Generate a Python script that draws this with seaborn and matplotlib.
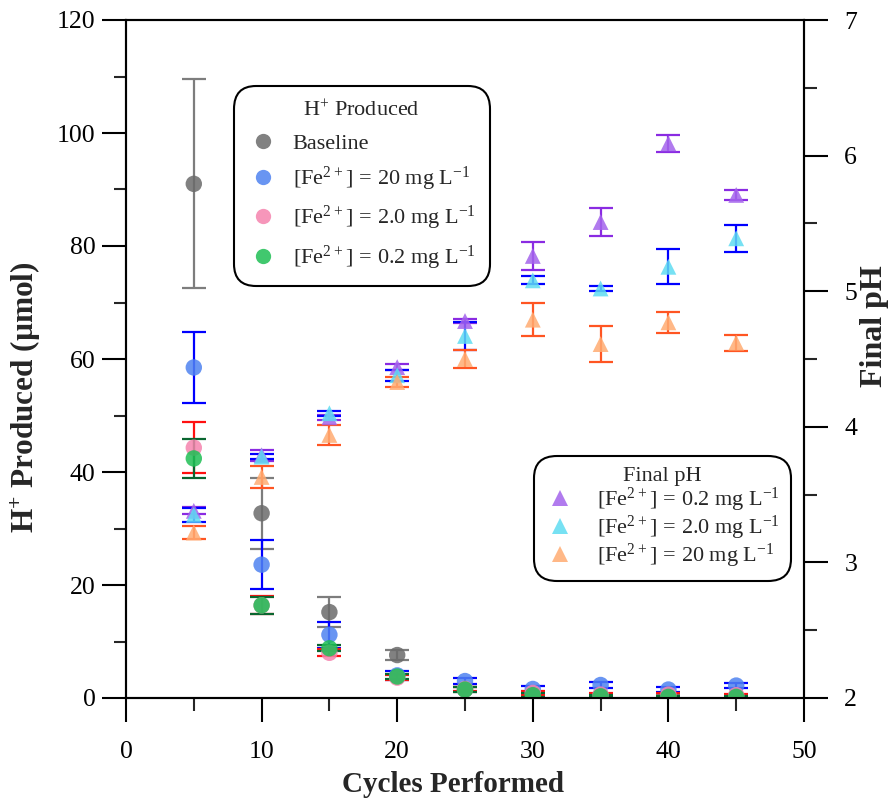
import matplotlib
matplotlib.use("Agg")
import matplotlib.pyplot as plt
from matplotlib.lines import Line2D
from matplotlib.ticker import MultipleLocator
import pandas as pd
import seaborn as sns

# ---------------------------------------------------------------------------
# Data
# ---------------------------------------------------------------------------
CYCLES = [5, 10, 15, 20, 25, 30, 35, 40, 45]

# H+ produced (umol): mean and error
H_BASELINE = [91.0, 32.7, 15.2, 7.6, 1.5, 0.8, 0.5, 0.3, 0.3]
H_BASELINE_ERR = [18.5, 6.3, 2.6, 0.9, 0.4, 0.3, 0.2, 0.2, 0.2]
H_FE20 = [58.5, 23.6, 11.2, 4.0, 3.0, 1.6, 2.3, 1.5, 2.2]
H_FE20_ERR = [6.3, 4.3, 2.3, 0.8, 0.6, 0.5, 0.6, 0.4, 0.5]
H_FE2 = [44.3, 16.4, 8.0, 3.6, 1.6, 0.9, 0.6, 0.6, 0.5]
H_FE2_ERR = [4.5, 1.6, 0.6, 0.5, 0.4, 0.3, 0.2, 0.2, 0.2]
H_FE02 = [42.4, 16.4, 8.8, 3.8, 1.5, 0.5, 0.3, 0.2, 0.2]
H_FE02_ERR = [3.4, 1.5, 0.5, 0.4, 0.4, 0.3, 0.2, 0.2, 0.2]

# Final pH: mean and error
PH_FE02 = [3.38, 3.79, 4.07, 4.44, 4.78, 5.26, 5.51, 6.09, 5.71]
PH_FE02_ERR = [0.025, 0.04, 0.02, 0.02, 0.015, 0.10, 0.10, 0.06, 0.035]
PH_FE2 = [3.35, 3.78, 4.10, 4.38, 4.67, 5.08, 5.02, 5.18, 5.39]
PH_FE2_ERR = [0.05, 0.02, 0.02, 0.04, 0.10, 0.03, 0.02, 0.13, 0.10]
PH_FE20 = [3.22, 3.63, 3.94, 4.33, 4.50, 4.79, 4.61, 4.77, 4.62]
PH_FE20_ERR = [0.045, 0.08, 0.075, 0.04, 0.07, 0.12, 0.13, 0.08, 0.06]

LBL_BASE = "Baseline"
LBL_20 = "[Fe$^{2+}$] = 20 mg L$^{-1}$"
LBL_2 = "[Fe$^{2+}$] = 2.0 mg L$^{-1}$"
LBL_02 = "[Fe$^{2+}$] = 0.2 mg L$^{-1}$"

# label -> (values, errors, marker colour, error bar colour)
H_SERIES = {
    LBL_BASE: (H_BASELINE, H_BASELINE_ERR, "#6b6b6b", "#7d7d7d"),
    LBL_20: (H_FE20, H_FE20_ERR, "#4f83f0", "#0000ff"),
    LBL_2: (H_FE2, H_FE2_ERR, "#f584ae", "#ff1010"),
    LBL_02: (H_FE02, H_FE02_ERR, "#1fbf55", "#0a6630"),
}
PH_SERIES = {
    LBL_02: (PH_FE02, PH_FE02_ERR, "#a464ec", "#8a2be2"),
    LBL_2: (PH_FE2, PH_FE2_ERR, "#5fdcf2", "#0000ff"),
    LBL_20: (PH_FE20, PH_FE20_ERR, "#ffac72", "#ff5522"),
}


def long_frame(series):
    rows = []
    for label, (vals, errs, _, _) in series.items():
        for c, v, e in zip(CYCLES, vals, errs):
            rows.append({"Cycles": c, "Value": v, "Err": e, "Series": label})
    return pd.DataFrame(rows)


sns.set_theme(style="ticks")
plt.rcParams["font.family"] = ["Liberation Serif", "DejaVu Serif"]
plt.rcParams["mathtext.default"] = "regular"
plt.rcParams["axes.linewidth"] = 1.5

fig = plt.figure(figsize=(8.95, 8.0), dpi=100)
ax = fig.add_axes([126 / 895, 1 - 698 / 800, 678 / 895, 678 / 800])
ax2 = ax.twinx()

h_df = long_frame(H_SERIES)
ph_df = long_frame(PH_SERIES)

# error bars first, markers on top
for label, (vals, errs, _, ecol) in H_SERIES.items():
    ax.errorbar(CYCLES, vals, yerr=errs, fmt="none", ecolor=ecol,
                elinewidth=1.6, capsize=8.5, capthick=1.6, zorder=2)
sns.scatterplot(data=h_df, x="Cycles", y="Value", hue="Series",
                palette={k: v[2] for k, v in H_SERIES.items()},
                marker="o", s=140, alpha=0.85, linewidth=0,
                legend=False, ax=ax, zorder=3)

for label, (vals, errs, _, ecol) in PH_SERIES.items():
    ax2.errorbar(CYCLES, vals, yerr=errs, fmt="none", ecolor=ecol,
                 elinewidth=1.6, capsize=8.5, capthick=1.6, zorder=2)
sns.scatterplot(data=ph_df, x="Cycles", y="Value", hue="Series",
                palette={k: v[2] for k, v in PH_SERIES.items()},
                marker="^", s=130, alpha=0.85, linewidth=0,
                legend=False, ax=ax2, zorder=3)

# axes limits / ticks
ax.set_xlim(0, 50)
ax.set_ylim(0, 120)
ax2.set_ylim(2, 7)
ax.xaxis.set_major_locator(MultipleLocator(10))
ax.xaxis.set_minor_locator(MultipleLocator(5))
ax.yaxis.set_major_locator(MultipleLocator(20))
ax.yaxis.set_minor_locator(MultipleLocator(10))
ax2.yaxis.set_major_locator(MultipleLocator(1))
ax2.yaxis.set_minor_locator(MultipleLocator(0.5))

for a in (ax, ax2):
    a.tick_params(which="major", direction="out", length=17, width=1.5,
                  labelsize=18.5, colors="black", pad=5)
    a.tick_params(which="minor", direction="out", length=9, width=1.5)
    for sp in a.spines.values():
        sp.set_visible(True)
        sp.set_color("black")
        sp.set_linewidth(1.5)
ax.tick_params(axis="x", top=False, which="both", pad=14)
ax2.tick_params(axis="x", top=False, bottom=False, which="both")
ax2.tick_params(axis="y", which="major", pad=12)

ax.set_xlabel("Cycles Performed", fontsize=21, fontweight="bold")
ax.xaxis.set_label_coords(0.482, -0.108)
ax.set_ylabel("H$^{+}$ Produced (µmol)", fontsize=22.5, fontweight="bold")
ax.yaxis.set_label_coords(-0.122, 0.444)
ax2.set_ylabel("Final pH", fontsize=23, fontweight="bold")
ax2.yaxis.set_label_coords(1.083, 0.549)

# legends
h_handles = [Line2D([], [], marker="o", linestyle="none", markersize=11,
                    markerfacecolor=v[2], markeredgewidth=0, alpha=0.85)
             for v in H_SERIES.values()]
ph_handles = [Line2D([], [], marker="^", linestyle="none", markersize=11,
                     markerfacecolor=v[2], markeredgewidth=0, alpha=0.85)
              for v in PH_SERIES.values()]

leg1 = ax2.legend(h_handles, list(H_SERIES.keys()), title="H$^{+}$ Produced",
                  loc="upper left", bbox_to_anchor=(0.149, 0.912),
                  fontsize=16, title_fontsize=16, frameon=True,
                  handletextpad=0.7, labelspacing=0.5, borderpad=0.45,
                  handlelength=1.3)
ax2.add_artist(leg1)
leg2 = ax2.legend(ph_handles, list(PH_SERIES.keys()), title="Final pH",
                  loc="lower right", bbox_to_anchor=(0.99, 0.162),
                  fontsize=16, title_fontsize=16, frameon=True,
                  handletextpad=1.0, labelspacing=0.0, borderpad=0.3,
                  handlelength=1.3)
for leg in (leg1, leg2):
    fr = leg.get_frame()
    fr.set_edgecolor("black")
    fr.set_linewidth(1.5)
    fr.set_facecolor("white")
    fr.set_alpha(1.0)
    fr.set_boxstyle("round,pad=0.2,rounding_size=1.0")

fig.savefig("out.png", dpi=100)
